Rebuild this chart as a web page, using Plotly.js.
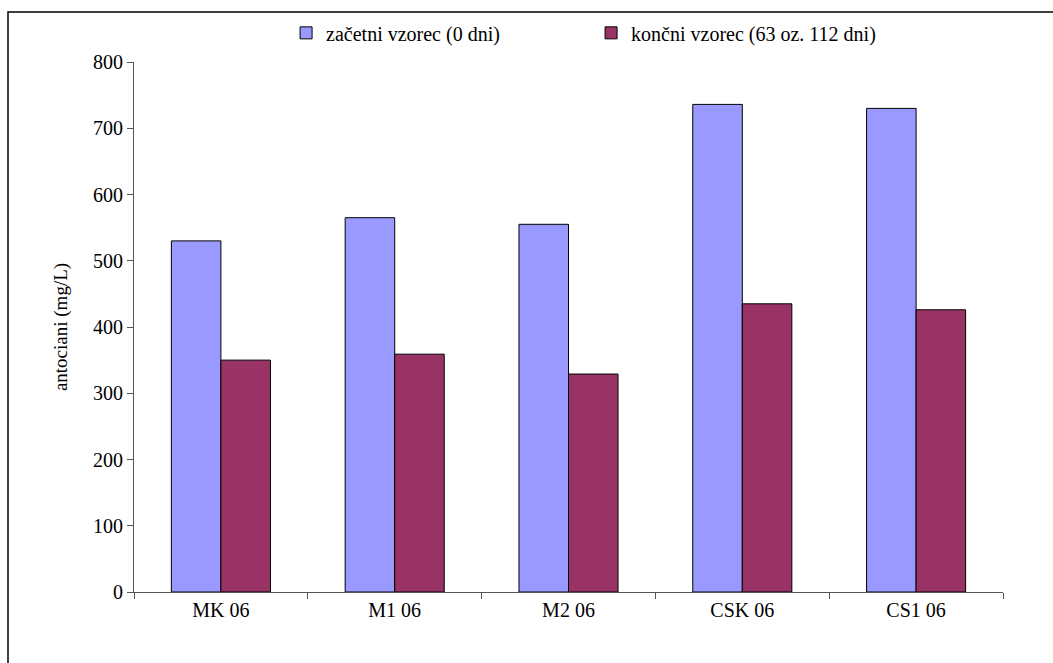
<!DOCTYPE html>
<html>
<head>
<meta charset="utf-8">
<script src="https://cdn.plot.ly/plotly-3.0.1.min.js"></script>
<style>
  html, body { margin: 0; padding: 0; background: #ffffff; }
  #chart { width: 1053px; height: 663px; }
</style>
</head>
<body>
<div id="chart"></div>
<script>
// Anthocyanin content per wine sample, start vs. end of ageing
const categories = ['MK 06', 'M1 06', 'M2 06', 'CSK 06', 'CS1 06'];
const initialValues = [530, 565, 555, 736, 730];
const finalValues = [350, 359, 329, 435, 426];
const seriesNames = ['začetni vzorec (0 dni)', 'končni vzorec (63 oz. 112 dni)'];
const yTicks = [0, 100, 200, 300, 400, 500, 600, 700, 800];

const serif = 'Liberation Serif';

const traces = [
  {
    type: 'bar',
    name: seriesNames[0],
    x: categories,
    y: initialValues,
    marker: { color: '#9999FF', line: { color: '#000000', width: 1 } }
  },
  {
    type: 'bar',
    name: seriesNames[1],
    x: categories,
    y: finalValues,
    marker: { color: '#993366', line: { color: '#000000', width: 1 } }
  }
];

const layout = {
  width: 1053,
  height: 663,
  margin: { l: 134, r: 50, t: 62, b: 71 },
  paper_bgcolor: '#ffffff',
  plot_bgcolor: '#ffffff',
  barmode: 'group',
  bargap: 0.43,
  bargroupgap: 0,
  font: { family: serif, size: 20, color: '#000000' },
  showlegend: true,
  legend: {
    orientation: 'h',
    x: 0.175,
    xanchor: 'left',
    y: 1.055,
    yanchor: 'middle',
    entrywidth: 260,
    entrywidthmode: 'pixels',
    font: { family: serif, size: 20, color: '#000000' },
    bgcolor: 'rgba(0,0,0,0)'
  },
  xaxis: {
    type: 'category',
    showline: true,
    linecolor: '#555555',
    linewidth: 1,
    ticks: 'outside',
    tickson: 'boundaries',
    ticklen: 6,
    tickcolor: '#555555',
    showgrid: false,
    zeroline: false,
    tickfont: { family: serif, size: 20, color: '#000000' },
    fixedrange: true
  },
  yaxis: {
    range: [0, 800],
    tickvals: yTicks,
    ticktext: yTicks.map(String),
    showline: true,
    linecolor: '#555555',
    linewidth: 1,
    ticks: 'outside',
    ticklen: 6,
    tickcolor: '#555555',
    showgrid: false,
    zeroline: false,
    tickfont: { family: serif, size: 20, color: '#000000' },
    title: {
      text: 'antociani (mg/L)',
      font: { family: serif, size: 19, color: '#000000' },
      standoff: 20
    },
    fixedrange: true
  },
  shapes: [
    // outer frame of the chart area
    {
      type: 'rect', xref: 'paper', yref: 'paper',
      x0: -0.145, x1: 1.1, y0: -0.2, y1: 1.0943,
      line: { color: '#000000', width: 1.5 },
      fillcolor: 'rgba(0,0,0,0)',
      layer: 'below'
    }
  ]
};

Plotly.newPlot('chart', traces, layout, { displayModeBar: false, staticPlot: true });
</script>
</body>
</html>
